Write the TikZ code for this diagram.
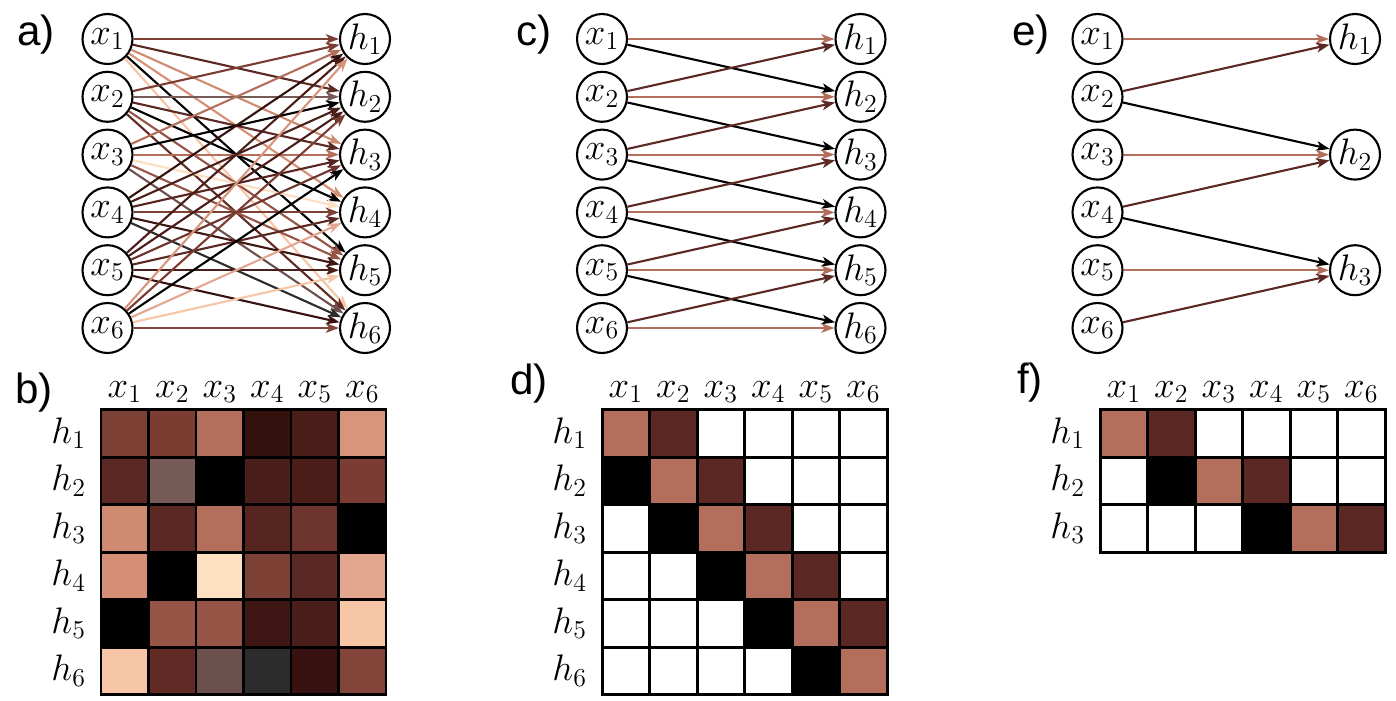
\RequirePackage{fix-cm}
\documentclass[tikz,border=0pt]{standalone}
\usepackage{fontspec}
\setsansfont{Liberation Sans}
\usetikzlibrary{arrows.meta}
% weights of the dense layer, w<row h><col x>
\definecolor{w11}{HTML}{7D4035}\definecolor{w12}{HTML}{7B3D32}\definecolor{w13}{HTML}{B36F5B}
\definecolor{w14}{HTML}{33120E}\definecolor{w15}{HTML}{4A1D19}\definecolor{w16}{HTML}{D7957B}
\definecolor{w21}{HTML}{5C2823}\definecolor{w22}{HTML}{775B57}\definecolor{w23}{HTML}{000000}
\definecolor{w24}{HTML}{4A1E1A}\definecolor{w25}{HTML}{4A1D19}\definecolor{w26}{HTML}{7B3D33}
\definecolor{w31}{HTML}{CF8A72}\definecolor{w32}{HTML}{5C2823}\definecolor{w33}{HTML}{B36F5B}
\definecolor{w34}{HTML}{562520}\definecolor{w35}{HTML}{6D332D}\definecolor{w36}{HTML}{000000}
\definecolor{w41}{HTML}{D68F77}\definecolor{w42}{HTML}{000000}\definecolor{w43}{HTML}{FDDFC2}
\definecolor{w44}{HTML}{7D4035}\definecolor{w45}{HTML}{5C2823}\definecolor{w46}{HTML}{E3A790}
\definecolor{w51}{HTML}{000000}\definecolor{w52}{HTML}{955446}\definecolor{w53}{HTML}{955446}
\definecolor{w54}{HTML}{3E1613}\definecolor{w55}{HTML}{4A1E1A}\definecolor{w56}{HTML}{F6C6A6}
\definecolor{w61}{HTML}{F6C6A6}\definecolor{w62}{HTML}{612A24}\definecolor{w63}{HTML}{6B504D}
\definecolor{w64}{HTML}{2C2C2C}\definecolor{w65}{HTML}{381211}\definecolor{w66}{HTML}{834539}
% shared kernel of the convolution
\definecolor{kcenter}{HTML}{B36F5B}
\definecolor{kright}{HTML}{5C2823}
\definecolor{kleft}{HTML}{000000}

\begin{document}
\begin{tikzpicture}[
  x=0.02cm, y=-0.02cm,
  >={Stealth[length=7.5pt, width=5.5pt, inset=2pt]},
  unit/.style={circle, draw=black, fill=white, line width=1.2pt, minimum size=1cm, inner sep=0pt, font=\fontsize{21}{24}\selectfont},
  link/.style={->, line width=1.2pt},
  cell/.style={draw=black, line width=1.7pt},
  collbl/.style={anchor=base, font=\fontsize{21}{24}\selectfont},
  rowlbl/.style={anchor=base east, font=\fontsize{21}{24}\selectfont},
  panel/.style={anchor=base west, font=\sffamily\fontsize{24}{28}\selectfont},
]
\useasboundingbox (0,0) rectangle (1396,700);

% ---- panel labels ----
\node[panel] (la) at (11, 45)   {a)};
\node[panel] (lb) at (9, 403)   {b)};
\node[panel] (lc) at (510, 45)  {c)};
\node[panel] (ld) at (504, 394) {d)};
\node[panel] (le) at (1006, 45) {e)};
\node[panel] (lf) at (1011, 393) {f)};

% ---- a) dense layer ----
\node[unit] (xa1) at (107.5, 39)    {$x_1$};
\node[unit] (xa2) at (107.5, 96.8)  {$x_2$};
\node[unit] (xa3) at (107.5, 154.6) {$x_3$};
\node[unit] (xa4) at (107.5, 212.4) {$x_4$};
\node[unit] (xa5) at (107.5, 270.2) {$x_5$};
\node[unit] (xa6) at (107.5, 328)   {$x_6$};
\node[unit] (ha1) at (365, 39)    {$h_1$};
\node[unit] (ha2) at (365, 96.8)  {$h_2$};
\node[unit] (ha3) at (365, 154.6) {$h_3$};
\node[unit] (ha4) at (365, 212.4) {$h_4$};
\node[unit] (ha5) at (365, 270.2) {$h_5$};
\node[unit] (ha6) at (365, 328)   {$h_6$};

\draw[link, w11] (xa1) -- (ha1);
\draw[link, w21] (xa1) -- (ha2);
\draw[link, w31] (xa1) -- (ha3);
\draw[link, w41] (xa1) -- (ha4);
\draw[link, w51] (xa1) -- (ha5);
\draw[link, w61] (xa1) -- (ha6);
\draw[link, w12] (xa2) -- (ha1);
\draw[link, w22] (xa2) -- (ha2);
\draw[link, w32] (xa2) -- (ha3);
\draw[link, w42] (xa2) -- (ha4);
\draw[link, w52] (xa2) -- (ha5);
\draw[link, w62] (xa2) -- (ha6);
\draw[link, w13] (xa3) -- (ha1);
\draw[link, w23] (xa3) -- (ha2);
\draw[link, w33] (xa3) -- (ha3);
\draw[link, w43] (xa3) -- (ha4);
\draw[link, w53] (xa3) -- (ha5);
\draw[link, w63] (xa3) -- (ha6);
\draw[link, w14] (xa4) -- (ha1);
\draw[link, w24] (xa4) -- (ha2);
\draw[link, w34] (xa4) -- (ha3);
\draw[link, w44] (xa4) -- (ha4);
\draw[link, w54] (xa4) -- (ha5);
\draw[link, w64] (xa4) -- (ha6);
\draw[link, w15] (xa5) -- (ha1);
\draw[link, w25] (xa5) -- (ha2);
\draw[link, w35] (xa5) -- (ha3);
\draw[link, w45] (xa5) -- (ha4);
\draw[link, w55] (xa5) -- (ha5);
\draw[link, w65] (xa5) -- (ha6);
\draw[link, w16] (xa6) -- (ha1);
\draw[link, w26] (xa6) -- (ha2);
\draw[link, w36] (xa6) -- (ha3);
\draw[link, w46] (xa6) -- (ha4);
\draw[link, w56] (xa6) -- (ha5);
\draw[link, w66] (xa6) -- (ha6);

% ---- b) its weight matrix ----
\node[collbl] (bx1) at (124.75, 397) {$x_1$};
\node[collbl] (bx2) at (172.25, 397) {$x_2$};
\node[collbl] (bx3) at (219.75, 397) {$x_3$};
\node[collbl] (bx4) at (267.25, 397) {$x_4$};
\node[collbl] (bx5) at (314.75, 397) {$x_5$};
\node[collbl] (bx6) at (362.25, 397) {$x_6$};
\node[rowlbl] (bh1) at (92, 443.25) {$h_1$};
\node[rowlbl] (bh2) at (92, 490.75) {$h_2$};
\node[rowlbl] (bh3) at (92, 538.25) {$h_3$};
\node[rowlbl] (bh4) at (92, 585.75) {$h_4$};
\node[rowlbl] (bh5) at (92, 633.25) {$h_5$};
\node[rowlbl] (bh6) at (92, 680.75) {$h_6$};

\draw[cell, fill=w11] (101, 409.5) rectangle +(47.5, 47.5);
\draw[cell, fill=w12] (148.5, 409.5) rectangle +(47.5, 47.5);
\draw[cell, fill=w13] (196, 409.5) rectangle +(47.5, 47.5);
\draw[cell, fill=w14] (243.5, 409.5) rectangle +(47.5, 47.5);
\draw[cell, fill=w15] (291, 409.5) rectangle +(47.5, 47.5);
\draw[cell, fill=w16] (338.5, 409.5) rectangle +(47.5, 47.5);
\draw[cell, fill=w21] (101, 457) rectangle +(47.5, 47.5);
\draw[cell, fill=w22] (148.5, 457) rectangle +(47.5, 47.5);
\draw[cell, fill=w23] (196, 457) rectangle +(47.5, 47.5);
\draw[cell, fill=w24] (243.5, 457) rectangle +(47.5, 47.5);
\draw[cell, fill=w25] (291, 457) rectangle +(47.5, 47.5);
\draw[cell, fill=w26] (338.5, 457) rectangle +(47.5, 47.5);
\draw[cell, fill=w31] (101, 504.5) rectangle +(47.5, 47.5);
\draw[cell, fill=w32] (148.5, 504.5) rectangle +(47.5, 47.5);
\draw[cell, fill=w33] (196, 504.5) rectangle +(47.5, 47.5);
\draw[cell, fill=w34] (243.5, 504.5) rectangle +(47.5, 47.5);
\draw[cell, fill=w35] (291, 504.5) rectangle +(47.5, 47.5);
\draw[cell, fill=w36] (338.5, 504.5) rectangle +(47.5, 47.5);
\draw[cell, fill=w41] (101, 552) rectangle +(47.5, 47.5);
\draw[cell, fill=w42] (148.5, 552) rectangle +(47.5, 47.5);
\draw[cell, fill=w43] (196, 552) rectangle +(47.5, 47.5);
\draw[cell, fill=w44] (243.5, 552) rectangle +(47.5, 47.5);
\draw[cell, fill=w45] (291, 552) rectangle +(47.5, 47.5);
\draw[cell, fill=w46] (338.5, 552) rectangle +(47.5, 47.5);
\draw[cell, fill=w51] (101, 599.5) rectangle +(47.5, 47.5);
\draw[cell, fill=w52] (148.5, 599.5) rectangle +(47.5, 47.5);
\draw[cell, fill=w53] (196, 599.5) rectangle +(47.5, 47.5);
\draw[cell, fill=w54] (243.5, 599.5) rectangle +(47.5, 47.5);
\draw[cell, fill=w55] (291, 599.5) rectangle +(47.5, 47.5);
\draw[cell, fill=w56] (338.5, 599.5) rectangle +(47.5, 47.5);
\draw[cell, fill=w61] (101, 647) rectangle +(47.5, 47.5);
\draw[cell, fill=w62] (148.5, 647) rectangle +(47.5, 47.5);
\draw[cell, fill=w63] (196, 647) rectangle +(47.5, 47.5);
\draw[cell, fill=w64] (243.5, 647) rectangle +(47.5, 47.5);
\draw[cell, fill=w65] (291, 647) rectangle +(47.5, 47.5);
\draw[cell, fill=w66] (338.5, 647) rectangle +(47.5, 47.5);

% ---- c) convolution, stride 1 ----
\node[unit] (xc1) at (602, 39)    {$x_1$};
\node[unit] (xc2) at (602, 96.8)  {$x_2$};
\node[unit] (xc3) at (602, 154.6) {$x_3$};
\node[unit] (xc4) at (602, 212.4) {$x_4$};
\node[unit] (xc5) at (602, 270.2) {$x_5$};
\node[unit] (xc6) at (602, 328)   {$x_6$};
\node[unit] (hc1) at (860.5, 39)    {$h_1$};
\node[unit] (hc2) at (860.5, 96.8)  {$h_2$};
\node[unit] (hc3) at (860.5, 154.6) {$h_3$};
\node[unit] (hc4) at (860.5, 212.4) {$h_4$};
\node[unit] (hc5) at (860.5, 270.2) {$h_5$};
\node[unit] (hc6) at (860.5, 328)   {$h_6$};

\draw[link, kcenter] (xc1) -- (hc1);
\draw[link, kleft]   (xc1) -- (hc2);
\draw[link, kright]  (xc2) -- (hc1);
\draw[link, kcenter] (xc2) -- (hc2);
\draw[link, kleft]   (xc2) -- (hc3);
\draw[link, kright]  (xc3) -- (hc2);
\draw[link, kcenter] (xc3) -- (hc3);
\draw[link, kleft]   (xc3) -- (hc4);
\draw[link, kright]  (xc4) -- (hc3);
\draw[link, kcenter] (xc4) -- (hc4);
\draw[link, kleft]   (xc4) -- (hc5);
\draw[link, kright]  (xc5) -- (hc4);
\draw[link, kcenter] (xc5) -- (hc5);
\draw[link, kleft]   (xc5) -- (hc6);
\draw[link, kright]  (xc6) -- (hc5);
\draw[link, kcenter] (xc6) -- (hc6);

% ---- d) banded matrix ----
\node[collbl] (dx1) at (625.75, 397) {$x_1$};
\node[collbl] (dx2) at (673.25, 397) {$x_2$};
\node[collbl] (dx3) at (720.75, 397) {$x_3$};
\node[collbl] (dx4) at (768.25, 397) {$x_4$};
\node[collbl] (dx5) at (815.75, 397) {$x_5$};
\node[collbl] (dx6) at (863.25, 397) {$x_6$};
\node[rowlbl] (dh1) at (593, 443.25) {$h_1$};
\node[rowlbl] (dh2) at (593, 490.75) {$h_2$};
\node[rowlbl] (dh3) at (593, 538.25) {$h_3$};
\node[rowlbl] (dh4) at (593, 585.75) {$h_4$};
\node[rowlbl] (dh5) at (593, 633.25) {$h_5$};
\node[rowlbl] (dh6) at (593, 680.75) {$h_6$};

\draw[cell, fill=kcenter] (602, 409.5) rectangle +(47.5, 47.5);
\draw[cell, fill=kright]  (649.5, 409.5) rectangle +(47.5, 47.5);
\draw[cell, fill=white]   (697, 409.5) rectangle +(47.5, 47.5);
\draw[cell, fill=white]   (744.5, 409.5) rectangle +(47.5, 47.5);
\draw[cell, fill=white]   (792, 409.5) rectangle +(47.5, 47.5);
\draw[cell, fill=white]   (839.5, 409.5) rectangle +(47.5, 47.5);
\draw[cell, fill=kleft]   (602, 457) rectangle +(47.5, 47.5);
\draw[cell, fill=kcenter] (649.5, 457) rectangle +(47.5, 47.5);
\draw[cell, fill=kright]  (697, 457) rectangle +(47.5, 47.5);
\draw[cell, fill=white]   (744.5, 457) rectangle +(47.5, 47.5);
\draw[cell, fill=white]   (792, 457) rectangle +(47.5, 47.5);
\draw[cell, fill=white]   (839.5, 457) rectangle +(47.5, 47.5);
\draw[cell, fill=white]   (602, 504.5) rectangle +(47.5, 47.5);
\draw[cell, fill=kleft]   (649.5, 504.5) rectangle +(47.5, 47.5);
\draw[cell, fill=kcenter] (697, 504.5) rectangle +(47.5, 47.5);
\draw[cell, fill=kright]  (744.5, 504.5) rectangle +(47.5, 47.5);
\draw[cell, fill=white]   (792, 504.5) rectangle +(47.5, 47.5);
\draw[cell, fill=white]   (839.5, 504.5) rectangle +(47.5, 47.5);
\draw[cell, fill=white]   (602, 552) rectangle +(47.5, 47.5);
\draw[cell, fill=white]   (649.5, 552) rectangle +(47.5, 47.5);
\draw[cell, fill=kleft]   (697, 552) rectangle +(47.5, 47.5);
\draw[cell, fill=kcenter] (744.5, 552) rectangle +(47.5, 47.5);
\draw[cell, fill=kright]  (792, 552) rectangle +(47.5, 47.5);
\draw[cell, fill=white]   (839.5, 552) rectangle +(47.5, 47.5);
\draw[cell, fill=white]   (602, 599.5) rectangle +(47.5, 47.5);
\draw[cell, fill=white]   (649.5, 599.5) rectangle +(47.5, 47.5);
\draw[cell, fill=white]   (697, 599.5) rectangle +(47.5, 47.5);
\draw[cell, fill=kleft]   (744.5, 599.5) rectangle +(47.5, 47.5);
\draw[cell, fill=kcenter] (792, 599.5) rectangle +(47.5, 47.5);
\draw[cell, fill=kright]  (839.5, 599.5) rectangle +(47.5, 47.5);
\draw[cell, fill=white]   (602, 647) rectangle +(47.5, 47.5);
\draw[cell, fill=white]   (649.5, 647) rectangle +(47.5, 47.5);
\draw[cell, fill=white]   (697, 647) rectangle +(47.5, 47.5);
\draw[cell, fill=white]   (744.5, 647) rectangle +(47.5, 47.5);
\draw[cell, fill=kleft]   (792, 647) rectangle +(47.5, 47.5);
\draw[cell, fill=kcenter] (839.5, 647) rectangle +(47.5, 47.5);

% ---- e) convolution, stride 2 ----
\node[unit] (xe1) at (1097.5, 39)    {$x_1$};
\node[unit] (xe2) at (1097.5, 96.8)  {$x_2$};
\node[unit] (xe3) at (1097.5, 154.6) {$x_3$};
\node[unit] (xe4) at (1097.5, 212.4) {$x_4$};
\node[unit] (xe5) at (1097.5, 270.2) {$x_5$};
\node[unit] (xe6) at (1097.5, 328)   {$x_6$};
\node[unit] (he1) at (1355, 39)    {$h_1$};
\node[unit] (he2) at (1355, 154.6) {$h_2$};
\node[unit] (he3) at (1355, 270.2) {$h_3$};

\draw[link, kcenter] (xe1) -- (he1);
\draw[link, kright]  (xe2) -- (he1);
\draw[link, kleft]   (xe2) -- (he2);
\draw[link, kcenter] (xe3) -- (he2);
\draw[link, kright]  (xe4) -- (he2);
\draw[link, kleft]   (xe4) -- (he3);
\draw[link, kcenter] (xe5) -- (he3);
\draw[link, kright]  (xe6) -- (he3);

% ---- f) strided matrix ----
\node[collbl] (fx1) at (1123.75, 397) {$x_1$};
\node[collbl] (fx2) at (1171.25, 397) {$x_2$};
\node[collbl] (fx3) at (1218.75, 397) {$x_3$};
\node[collbl] (fx4) at (1266.25, 397) {$x_4$};
\node[collbl] (fx5) at (1313.75, 397) {$x_5$};
\node[collbl] (fx6) at (1361.25, 397) {$x_6$};
\node[rowlbl] (fh1) at (1091, 443.25) {$h_1$};
\node[rowlbl] (fh2) at (1091, 490.75) {$h_2$};
\node[rowlbl] (fh3) at (1091, 538.25) {$h_3$};

\draw[cell, fill=kcenter] (1100, 409.5) rectangle +(47.5, 47.5);
\draw[cell, fill=kright]  (1147.5, 409.5) rectangle +(47.5, 47.5);
\draw[cell, fill=white]   (1195, 409.5) rectangle +(47.5, 47.5);
\draw[cell, fill=white]   (1242.5, 409.5) rectangle +(47.5, 47.5);
\draw[cell, fill=white]   (1290, 409.5) rectangle +(47.5, 47.5);
\draw[cell, fill=white]   (1337.5, 409.5) rectangle +(47.5, 47.5);
\draw[cell, fill=white]   (1100, 457) rectangle +(47.5, 47.5);
\draw[cell, fill=kleft]   (1147.5, 457) rectangle +(47.5, 47.5);
\draw[cell, fill=kcenter] (1195, 457) rectangle +(47.5, 47.5);
\draw[cell, fill=kright]  (1242.5, 457) rectangle +(47.5, 47.5);
\draw[cell, fill=white]   (1290, 457) rectangle +(47.5, 47.5);
\draw[cell, fill=white]   (1337.5, 457) rectangle +(47.5, 47.5);
\draw[cell, fill=white]   (1100, 504.5) rectangle +(47.5, 47.5);
\draw[cell, fill=white]   (1147.5, 504.5) rectangle +(47.5, 47.5);
\draw[cell, fill=white]   (1195, 504.5) rectangle +(47.5, 47.5);
\draw[cell, fill=kleft]   (1242.5, 504.5) rectangle +(47.5, 47.5);
\draw[cell, fill=kcenter] (1290, 504.5) rectangle +(47.5, 47.5);
\draw[cell, fill=kright]  (1337.5, 504.5) rectangle +(47.5, 47.5);

\end{tikzpicture}
\end{document}
